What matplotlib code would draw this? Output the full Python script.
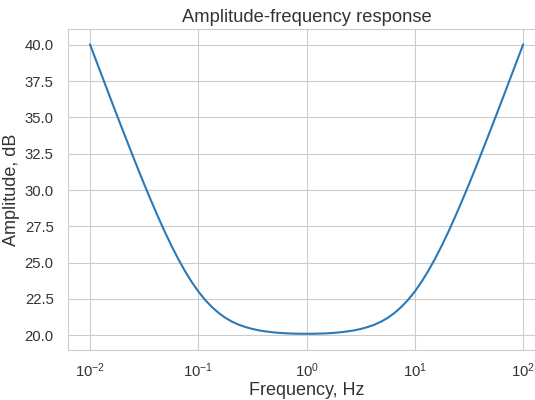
import matplotlib
matplotlib.use("Agg")
import matplotlib.pyplot as plt
import seaborn as sns

# Values (log10 of frequency -> amplitude, dB)
log_freq = [-2.0, -1.9375, -1.875, -1.8125, -1.75, -1.6875, -1.625, -1.5625,
            -1.5, -1.4375, -1.375, -1.3125, -1.25, -1.1875, -1.125, -1.0625,
            -1.0, -0.9375, -0.875, -0.8125, -0.75, -0.6875, -0.625, -0.5625,
            -0.5, -0.4375, -0.375, -0.3125, -0.25, -0.1875, -0.125, -0.0625,
            0.0,
            0.0625, 0.125, 0.1875, 0.25, 0.3125, 0.375, 0.4375, 0.5,
            0.5625, 0.625, 0.6875, 0.75, 0.8125, 0.875, 0.9375, 1.0,
            1.0625, 1.125, 1.1875, 1.25, 1.3125, 1.375, 1.4375, 1.5,
            1.5625, 1.625, 1.6875, 1.75, 1.8125, 1.875, 1.9375, 2.0]
amplitude_db = [40.04, 38.81, 37.58, 36.35, 35.13, 33.93, 32.74, 31.56,
                30.41, 29.29, 28.21, 27.17, 26.19, 25.28, 24.44, 23.68,
                23.01, 22.43, 21.94, 21.53, 21.19, 20.92, 20.71, 20.55,
                20.42, 20.32, 20.25, 20.19, 20.15, 20.12, 20.10, 20.09,
                20.09,
                20.09, 20.10, 20.12, 20.15, 20.19, 20.25, 20.32, 20.42,
                20.55, 20.71, 20.92, 21.19, 21.53, 21.94, 22.43, 23.01,
                23.68, 24.44, 25.28, 26.19, 27.17, 28.21, 29.29, 30.41,
                31.56, 32.74, 33.93, 35.13, 36.35, 37.58, 38.81, 40.04]
y_ticks = [20.0, 22.5, 25.0, 27.5, 30.0, 32.5, 35.0, 37.5, 40.0]

freq = [10 ** v for v in log_freq]

sns.set_style("whitegrid")
plt.rcParams["font.family"] = ["Liberation Sans", "DejaVu Sans"]
plt.rcParams["mathtext.fontset"] = "custom"
plt.rcParams["mathtext.rm"] = "Liberation Sans"
plt.rcParams["mathtext.it"] = "Liberation Sans:italic"

fig = plt.figure(figsize=(5.35, 4.0), dpi=100)
ax = fig.add_axes([0.1277, 0.125, 0.8907, 0.8018])

ax.plot(freq, amplitude_db, color="#2a7ab9", linewidth=1.5)
ax.set_xscale("log")
ax.set_xlim(10 ** -2.2, 10 ** 2.2)
ax.set_ylim(18.97, 41.08)
ax.set_yticks(y_ticks)
ax.set_yticklabels([f"{t:.1f}" for t in y_ticks])

ax.tick_params(axis="y", labelsize=10.7, pad=7, colors="#333333")
ax.tick_params(axis="x", labelsize=10.7, pad=5, colors="#333333")

ax.set_title("Amplitude-frequency response", fontsize=13.2, color="#333333", pad=5)
ax.set_xlabel("Frequency, Hz", fontsize=13, color="#333333", labelpad=1)
ax.set_ylabel("Amplitude, dB", fontsize=13, color="#333333", labelpad=3)

fig.savefig("out.png", dpi=100)
